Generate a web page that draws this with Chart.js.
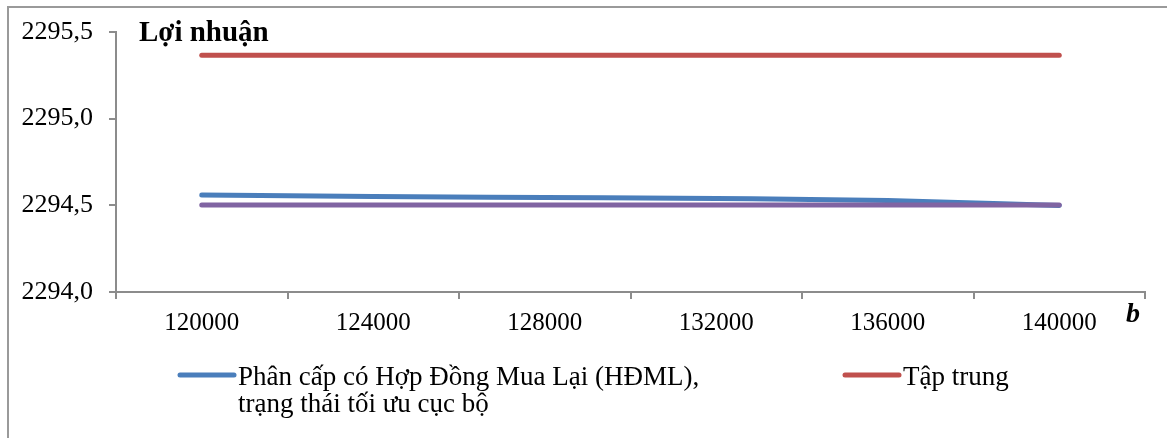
<!DOCTYPE html>
<html>
<head>
    <meta charset="UTF-8">
    <title>Lợi nhuận</title>
    <style>
        body {
            margin: 0;
            padding: 0;
            background: #ffffff;
        }
        .chart-box {
            position: relative;
            width: 1167px;
            height: 438px;
        }
    </style>
</head>
<body>
    <div class="chart-box">
        <canvas id="profitChart" width="1167" height="438"></canvas>
    </div>

    <script src="https://cdn.jsdelivr.net/npm/chart.js"></script>
    <script>
        // Chart data
        const categories = ['120000', '124000', '128000', '132000', '136000', '140000'];
        const decentralized = [2294.559, 2294.551, 2294.545, 2294.539, 2294.528, 2294.499];
        const centralized = [2295.366, 2295.366, 2295.366, 2295.366, 2295.366, 2295.366];
        const decentralizedOptimal = [2294.502, 2294.502, 2294.502, 2294.502, 2294.502, 2294.502];
        const yTicks = [2294.0, 2294.5, 2295.0, 2295.5];

        const legendLabels = [
            ['Phân cấp có Hợp Đồng Mua Lại (HĐML),', 'trạng thái tối ưu cục bộ'],
            ['Tập trung']
        ];
        const chartTitle = 'Lợi nhuận';
        const xAxisName = 'b';

        const serif = "'Liberation Serif', serif";
        const axisGray = '#8c8c8c';

        Chart.defaults.font.family = serif;

        // frame, title, axis name and the two-line legend
        const decorPlugin = {
            id: 'decor',
            beforeDraw(chart) {
                const c = chart.ctx;
                c.save();
                c.strokeStyle = '#9a9a9a';
                c.lineWidth = 2;
                c.strokeRect(8, 7, 1300, 600);
                c.restore();
            },
            afterDraw(chart) {
                const c = chart.ctx;
                c.save();
                c.fillStyle = '#000';
                c.textBaseline = 'alphabetic';
                c.font = 'bold 29px ' + serif;
                c.fillText(chartTitle, 139, 41);
                c.font = 'italic bold 28px ' + serif;
                c.fillText(xAxisName, 1126, 322);

                // legend
                const entries = [
                    { ds: chart.data.datasets[0], lines: legendLabels[0], x: 180 },
                    { ds: chart.data.datasets[1], lines: legendLabels[1], x: 845 }
                ];
                c.font = '27px ' + serif;
                entries.forEach(e => {
                    c.strokeStyle = e.ds.borderColor;
                    c.lineWidth = 5;
                    c.lineCap = 'round';
                    c.beginPath();
                    c.moveTo(e.x, 375);
                    c.lineTo(e.x + 54, 375);
                    c.stroke();
                    e.lines.forEach((t, i) => {
                        c.fillText(t, e.x + 58, 385 + i * 27);
                    });
                });
                c.restore();
            }
        };

        const ctx = document.getElementById('profitChart').getContext('2d');
        new Chart(ctx, {
            type: 'line',
            data: {
                labels: categories,
                datasets: [
                    {
                        label: legendLabels[0].join(' '),
                        data: decentralized,
                        borderColor: '#4a7ebb',
                        borderWidth: 5,
                        cubicInterpolationMode: 'monotone',
                        order: 2
                    },
                    {
                        label: legendLabels[1].join(' '),
                        data: centralized,
                        borderColor: '#c0504d',
                        borderWidth: 5,
                        order: 1
                    },
                    {
                        label: 'Phân cấp tối ưu',
                        data: decentralizedOptimal,
                        borderColor: '#8064a2',
                        borderWidth: 5,
                        order: 0
                    }
                ]
            },
            options: {
                responsive: false,
                animation: false,
                elements: {
                    point: { radius: 0 },
                    line: { borderCapStyle: 'round', borderJoinStyle: 'round' }
                },
                layout: {
                    padding: { top: 32, right: 22, left: 0, bottom: 0 }
                },
                plugins: {
                    legend: { display: false },
                    tooltip: { enabled: false }
                },
                scales: {
                    x: {
                        type: 'category',
                        offset: true,
                        grid: {
                            offset: true,
                            drawOnChartArea: false,
                            color: axisGray,
                            lineWidth: 2,
                            tickLength: 7
                        },
                        border: { color: axisGray, width: 2 },
                        ticks: {
                            color: '#000',
                            font: { family: serif, size: 25 },
                            padding: 9,
                            maxRotation: 0
                        },
                        afterFit(scale) { scale.height = 146; }
                    },
                    y: {
                        min: yTicks[0],
                        max: yTicks[yTicks.length - 1],
                        afterBuildTicks(scale) {
                            scale.ticks = yTicks.map(v => ({ value: v }));
                        },
                        grid: {
                            drawOnChartArea: false,
                            color: axisGray,
                            lineWidth: 2,
                            tickLength: 7
                        },
                        border: { color: axisGray, width: 2 },
                        ticks: {
                            color: '#000',
                            font: { family: serif, size: 26 },
                            padding: 16,
                            callback: v => v.toFixed(1).replace('.', ',')
                        },
                        afterFit(scale) { scale.width = 116; }
                    }
                }
            },
            plugins: [decorPlugin]
        });
    </script>
</body>
</html>
